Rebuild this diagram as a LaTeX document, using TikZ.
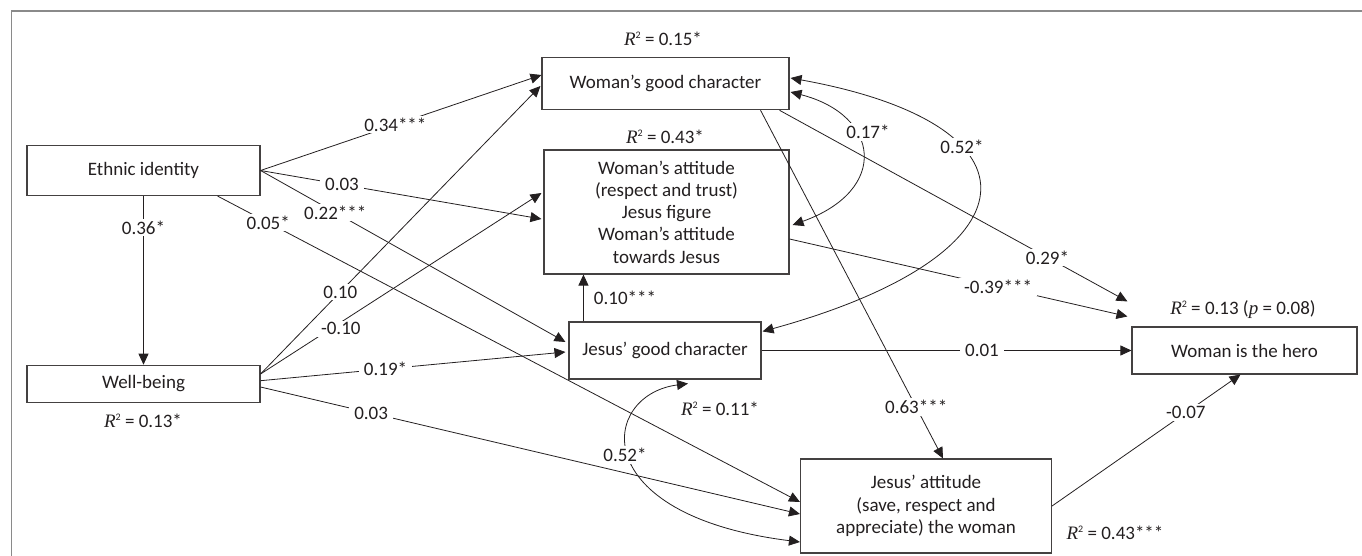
\documentclass[tikz,border=0pt]{standalone}
\usepackage{fontspec}
\setmainfont{Carlito}
\newfontfamily\rfont{Liberation Serif}
\usetikzlibrary{arrows.meta,calc}
\definecolor{ink}{HTML}{231F20}
\definecolor{framegray}{HTML}{8A8A8A}
\newcommand{\Rsq}{{\rfont\itshape R}\raisebox{0.8ex}{\fontsize{10}{10}\selectfont 2}}
\begin{document}
\begin{tikzpicture}[x=1pt,y=-1pt,
  font=\fontsize{19}{22.3}\selectfont,
  box/.style={draw=ink!85, line width=1.1pt, align=center, inner sep=0pt, text=ink},
  lab/.style={fill=white, inner xsep=5pt, inner ysep=2pt, text=ink},
  rsq/.style={inner sep=0pt, text=ink},
  tip/.tip={Triangle[length=11pt,width=10pt]},
  arr/.style={draw=ink, line width=0.8pt, -tip},
  cov/.style={draw=ink, line width=0.8pt, tip-tip},
  ln/.style={draw=ink, line width=0.8pt}]
\useasboundingbox (0,0) rectangle (1362,556);
\draw[framegray, line width=1.5pt] (11.5,556) -- (11.5,11) -- (1362,11);

% nodes
\node[box, minimum width=233pt, minimum height=50pt] (eth) at (143.5,170.5) {Ethnic identity};
\node[box, minimum width=233pt, minimum height=37.5pt] (wb) at (143.5,384) {Well-being};
\node[box, minimum width=247pt, minimum height=52.5pt] (wgc) at (665.5,83.5) {Woman’s good character};
\node[box, minimum width=245pt, minimum height=124pt] (wa) at (666.5,212) {Woman’s attitude\\(respect and trust)\\Jesus figure\\Woman’s attitude\\towards Jesus};
\node[box, minimum width=192pt, minimum height=57pt] (jgc) at (665,350.5) {Jesus’ good character};
\node[box, minimum width=251pt, minimum height=94pt] (ja) at (926,506) {Jesus’ attitude\\(save, respect and\\appreciate) the woman};
\node[box, minimum width=225pt, minimum height=47pt] (hero) at (1244.5,350.5) {Woman is the hero};

% R squared labels
\node[rsq] (r1) at (663,39) {\Rsq{} = 0.15*};
\node[rsq] (r2) at (665,137) {\Rsq{} = 0.43*};
\node[rsq] (r3) at (720,409) {\Rsq{} = 0.11*};
\node[rsq] (r4) at (143,421) {\Rsq{} = 0.13*};
\node[rsq] (r5) at (1243,310) {\Rsq{} = 0.13 ({\rfont\itshape p} = 0.08)};
\node[rsq] (r6) at (1115,533) {\Rsq{} = 0.43***};

% free ends near the hero box
\coordinate (h1) at ($(hero.north west)+(-4,-25)$);
\coordinate (h2) at ($(hero.north west)+(-4,-10)$);
\coordinate (jn) at ($(jgc.north west)+(15,0)$);

% paths from Ethnic identity
\draw[arr] (eth.east) -- ($(wgc.west)+(0,-8.5)$) node[lab,pos=.48] (l1) {0.34***};
\draw[arr] (eth.east) -- ($(wa.west)+(-2,7)$) node[lab,pos=.29] (l2) {0.03};
\draw[arr] (eth.east) -- ($(jgc.west)+(-3,-8.5)$) node[lab,pos=.245] (l3) {0.22***};
\draw[arr] ($(eth.south east)+(-43,0)$) -- ($(ja.west)+(0,-4)$) node[lab,pos=.087] (l4) {0.05*};
\draw[arr] (eth.south) -- (wb.north) node[lab,pos=.186] (l5) {0.36*};

% paths from Well-being
\draw[arr] ($(wb.east)+(0,-10)$) -- ($(wgc.west)+(-1,2.5)$) node[lab,pos=.285] (l6) {0.10};
\draw[arr] ($(wb.east)+(0,-10)$) -- ($(wa.west)+(-2,-19)$) node[lab,pos=.25,xshift=10pt] (l7) {-0.10};
\draw[arr] ($(wb.east)+(0,-3.3)$) -- ($(jgc.west)+(-3,1.5)$) node[lab,pos=.41] (l8) {0.19*};
\draw[arr] ($(wb.east)+(0,3)$) -- ($(ja.west)+(0,8)$) node[lab,pos=.205] (l9) {0.03};

% other paths
\draw[arr] (jn) -- (jn |- wa.south);
\node[rsq] (l10) at ($(jgc.north)+(-40,-24)$) {0.10***};
\draw[arr] (jgc.east) -- (hero.west) node[lab,pos=.596] (l11) {0.01};
\draw[arr] ($(wgc.south east)+(-29,0)$) -- ($(ja.north)+(17,0)$) node[lab,pos=.853] (l12) {0.63***};
\draw[arr] ($(wgc.south east)+(-10,0)$) -- (h1) node[lab,pos=.77] (l13) {0.29*};
\draw[arr] ($(wa.east)+(0,27)$) -- (h2) node[lab,pos=.617] (l14) {-0.39***};
\draw[arr] (ja.east) -- ($(hero.south)+(-4,0)$) node[lab,pos=.71] (l15) {-0.07};

% covariances
\draw[cov] ($(wgc.east)+(1,8.5)$) .. controls (880,115) and (890,190) .. ($(wa.east)+(3,13)$);
\draw[cov] ($(wgc.east)+(1,-5.5)$) .. controls (1050,125) and (1040,255) .. ($(jgc.north east)+(1,10)$);
\draw[cov] ($(jgc.south)+(23,4)$) .. controls (600,395) and (585,515) .. ($(ja.west)+(0,36)$);
\node[lab] (c1) at (868,132) {0.17*};
\node[lab] (c2) at (962,147) {0.52*};
\node[lab] (c3) at (625,455) {0.52*};
\end{tikzpicture}
\end{document}
